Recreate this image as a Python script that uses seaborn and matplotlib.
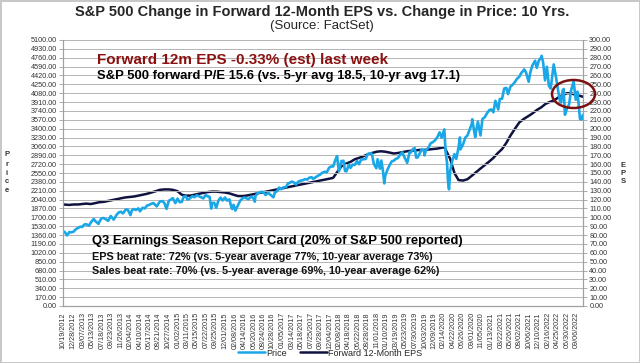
import pandas as pd
import matplotlib
matplotlib.use("Agg")
import matplotlib.pyplot as plt
from matplotlib.patches import Ellipse
from matplotlib.lines import Line2D
import seaborn as sns

# S&P 500 price
price_dates = [
    "2012-10-19", "2012-10-31", "2012-11-15", "2012-11-30", "2012-12-14", "2012-12-31",
    "2013-01-15", "2013-01-31", "2013-02-15", "2013-02-28", "2013-03-15", "2013-03-28",
    "2013-04-18", "2013-04-30", "2013-05-21", "2013-05-31", "2013-06-24", "2013-06-28",
    "2013-07-15", "2013-07-31", "2013-08-15", "2013-08-30", "2013-09-18", "2013-09-30",
    "2013-10-08", "2013-10-31", "2013-11-15", "2013-11-29", "2013-12-13", "2013-12-31",
    "2014-01-15", "2014-02-03", "2014-02-14", "2014-02-28", "2014-03-14", "2014-03-31",
    "2014-04-11", "2014-04-30", "2014-05-15", "2014-05-30", "2014-06-13", "2014-06-30",
    "2014-07-15", "2014-07-31", "2014-08-07", "2014-08-29", "2014-09-18", "2014-09-30",
    "2014-10-15", "2014-10-31", "2014-11-14", "2014-11-28", "2014-12-16", "2014-12-31",
    "2015-01-15", "2015-01-30", "2015-02-13", "2015-02-27", "2015-03-11", "2015-03-31",
    "2015-04-15", "2015-04-30", "2015-05-15", "2015-05-29", "2015-06-15", "2015-06-30",
    "2015-07-17", "2015-07-31", "2015-08-14", "2015-08-25", "2015-08-31", "2015-09-15",
    "2015-09-29", "2015-10-15", "2015-10-30", "2015-11-13", "2015-11-30", "2015-12-14",
    "2015-12-31", "2016-01-15", "2016-01-20", "2016-01-29", "2016-02-11", "2016-02-29",
    "2016-03-15", "2016-03-31", "2016-04-15", "2016-04-29", "2016-05-13", "2016-05-31",
    "2016-06-15", "2016-06-27", "2016-06-30", "2016-07-15", "2016-07-29", "2016-08-15",
    "2016-08-31", "2016-09-09", "2016-09-30", "2016-10-14", "2016-11-04", "2016-11-15",
    "2016-11-30", "2016-12-13", "2016-12-30", "2017-01-13", "2017-01-31", "2017-02-15",
    "2017-02-28", "2017-03-15", "2017-03-31", "2017-04-13", "2017-04-28", "2017-05-15",
    "2017-05-31", "2017-06-15", "2017-06-30", "2017-07-14", "2017-07-31", "2017-08-10",
    "2017-08-31", "2017-09-15", "2017-09-29", "2017-10-13", "2017-10-31", "2017-11-15",
    "2017-11-30", "2017-12-15", "2017-12-29", "2018-01-12", "2018-01-26", "2018-02-08",
    "2018-02-26", "2018-03-12", "2018-03-23", "2018-04-02", "2018-04-18", "2018-04-30",
    "2018-05-15", "2018-05-31", "2018-06-15", "2018-06-29", "2018-07-13", "2018-07-31",
    "2018-08-15", "2018-08-29", "2018-09-20", "2018-09-28", "2018-10-11", "2018-10-29",
    "2018-11-07", "2018-11-23", "2018-12-03", "2018-12-14", "2018-12-24", "2018-12-31",
    "2019-01-15", "2019-01-31", "2019-02-15", "2019-02-28", "2019-03-15", "2019-03-29",
    "2019-04-15", "2019-04-30", "2019-05-15", "2019-06-03", "2019-06-20", "2019-06-28",
    "2019-07-15", "2019-07-26", "2019-08-05", "2019-08-15", "2019-08-30", "2019-09-13",
    "2019-09-30", "2019-10-02", "2019-10-15", "2019-10-31", "2019-11-15", "2019-11-29",
    "2019-12-13", "2019-12-31", "2020-01-17", "2020-01-31", "2020-02-19", "2020-02-28",
    "2020-03-09", "2020-03-16", "2020-03-23", "2020-03-31", "2020-04-15", "2020-04-30",
    "2020-05-13", "2020-05-29", "2020-06-08", "2020-06-11", "2020-06-30", "2020-07-15",
    "2020-07-31", "2020-08-14", "2020-08-31", "2020-09-02", "2020-09-23", "2020-09-30",
    "2020-10-12", "2020-10-30", "2020-11-13", "2020-11-30", "2020-12-15", "2020-12-31",
    "2021-01-15", "2021-01-29", "2021-02-12", "2021-03-04", "2021-03-15", "2021-03-31",
    "2021-04-15", "2021-04-30", "2021-05-12", "2021-05-28", "2021-06-15", "2021-06-30",
    "2021-07-15", "2021-07-30", "2021-08-13", "2021-08-31", "2021-09-02", "2021-09-15",
    "2021-10-04", "2021-10-15", "2021-10-29", "2021-11-18", "2021-11-30", "2021-12-15",
    "2021-12-31", "2022-01-03", "2022-01-14", "2022-01-27", "2022-02-09", "2022-02-23",
    "2022-03-08", "2022-03-29", "2022-04-14", "2022-04-29", "2022-05-12", "2022-05-20",
    "2022-05-31", "2022-06-07", "2022-06-16", "2022-06-30", "2022-07-15", "2022-07-29",
    "2022-08-16", "2022-08-31", "2022-09-12", "2022-09-30", "2022-10-12", "2022-10-20",
]
price_values = [
    1433, 1412, 1353, 1416, 1413, 1426,
    1472, 1498, 1520, 1515, 1560, 1569,
    1541, 1598, 1669, 1631, 1573, 1606,
    1682, 1686, 1661, 1633, 1725, 1682,
    1656, 1757, 1798, 1806, 1775, 1848,
    1848, 1742, 1838, 1859, 1841, 1872,
    1816, 1884, 1870, 1924, 1936, 1960,
    1973, 1931, 1910, 2003, 2011, 1972,
    1862, 2018, 2039, 2068, 1973, 2059,
    1992, 1995, 2097, 2104, 2040, 2068,
    2106, 2086, 2123, 2107, 2085, 2063,
    2127, 2104, 2092, 1868, 1972, 1979,
    1884, 2024, 2079, 2023, 2080, 2021,
    2044, 1880, 1859, 1940, 1829, 1932,
    2016, 2060, 2081, 2065, 2047, 2097,
    2072, 2001, 2099, 2162, 2174, 2190,
    2171, 2128, 2168, 2133, 2085, 2180,
    2199, 2271, 2239, 2275, 2279, 2350,
    2364, 2385, 2363, 2329, 2384, 2403,
    2412, 2433, 2423, 2459, 2470, 2438,
    2472, 2500, 2519, 2553, 2575, 2565,
    2648, 2676, 2674, 2786, 2873, 2581,
    2780, 2784, 2588, 2582, 2708, 2648,
    2711, 2705, 2780, 2718, 2801, 2816,
    2818, 2914, 2931, 2914, 2728, 2641,
    2814, 2633, 2790, 2600, 2351, 2507,
    2610, 2704, 2775, 2784, 2822, 2834,
    2905, 2946, 2850, 2744, 2954, 2942,
    3014, 3026, 2845, 2848, 2926, 3007,
    2977, 2888, 2996, 3038, 3120, 3141,
    3169, 3231, 3330, 3226, 3386, 2954,
    2747, 2386, 2237, 2585, 2783, 2912,
    2820, 3044, 3232, 3002, 3100, 3227,
    3271, 3373, 3500, 3580, 3237, 3363,
    3534, 3270, 3585, 3622, 3695, 3756,
    3768, 3714, 3934, 3768, 3969, 3973,
    4170, 4181, 4063, 4204, 4246, 4298,
    4360, 4395, 4468, 4523, 4537, 4481,
    4300, 4471, 4605, 4704, 4567, 4709,
    4766, 4797, 4663, 4326, 4587, 4225,
    4171, 4632, 4393, 4132, 3930, 3901,
    4132, 4161, 3667, 3785, 3863, 4130,
    4305, 3955, 4110, 3586, 3577, 3665,
]

# forward 12-month EPS, month ends
eps_dates = [
    "2012-10-19", "2012-11-30", "2012-12-31",
    "2013-01-31", "2013-02-28", "2013-03-29", "2013-04-30", "2013-05-31", "2013-06-28",
    "2013-07-31", "2013-08-30", "2013-09-30", "2013-10-31", "2013-11-29", "2013-12-31",
    "2014-01-31", "2014-02-28", "2014-03-31", "2014-04-30", "2014-05-30", "2014-06-30",
    "2014-07-31", "2014-08-29", "2014-09-30", "2014-10-31", "2014-11-28", "2014-12-31",
    "2015-01-30", "2015-02-27", "2015-03-31", "2015-04-30", "2015-05-29", "2015-06-30",
    "2015-07-31", "2015-08-31", "2015-09-30", "2015-10-30", "2015-11-30", "2015-12-31",
    "2016-01-29", "2016-02-29", "2016-03-31", "2016-04-29", "2016-05-31", "2016-06-30",
    "2016-07-29", "2016-08-31", "2016-09-30", "2016-10-31", "2016-11-30", "2016-12-30",
    "2017-01-31", "2017-02-28", "2017-03-31", "2017-04-28", "2017-05-31", "2017-06-30",
    "2017-07-31", "2017-08-31", "2017-09-29", "2017-10-31", "2017-11-30", "2017-12-29",
    "2018-01-31", "2018-02-28", "2018-03-29", "2018-04-30", "2018-05-31", "2018-06-29",
    "2018-07-31", "2018-08-31", "2018-09-28", "2018-10-31", "2018-11-30", "2018-12-31",
    "2019-01-31", "2019-02-28", "2019-03-29", "2019-04-30", "2019-05-31", "2019-06-28",
    "2019-07-31", "2019-08-30", "2019-09-30", "2019-10-31", "2019-11-29", "2019-12-31",
    "2020-01-31", "2020-02-20", "2020-03-31", "2020-04-30", "2020-05-29", "2020-06-30",
    "2020-07-31", "2020-08-31", "2020-09-30", "2020-10-30", "2020-11-30", "2020-12-31",
    "2021-01-29", "2021-02-26", "2021-03-31", "2021-04-30", "2021-05-28", "2021-06-30",
    "2021-07-30", "2021-08-31", "2021-09-30", "2021-10-29", "2021-11-30", "2021-12-31",
    "2022-01-31", "2022-02-28", "2022-03-31", "2022-04-29", "2022-05-31", "2022-06-30",
    "2022-07-29", "2022-08-31", "2022-09-30", "2022-10-20",
]
eps_values = [
    114.5, 114.0, 114.5,
    114.5, 115.0, 115.5, 115.0, 116.0, 117.0,
    117.5, 118.5, 119.5, 120.5, 121.5, 122.5,
    123.0, 123.5, 124.5, 125.5, 126.5, 128.0,
    129.5, 131.0, 131.5, 131.5, 131.0, 129.5,
    125.5, 124.5, 124.5, 125.5, 126.5, 127.5,
    128.5, 129.0, 129.0, 128.5, 128.0, 127.0,
    125.5, 124.0, 124.0, 124.5, 125.5, 126.5,
    127.5, 128.5, 129.5, 130.5, 131.5, 132.5,
    133.5, 134.5, 135.5, 136.5, 137.5, 138.5,
    139.5, 140.5, 141.5, 142.5, 143.5, 144.5,
    152.0, 158.0, 160.5, 162.5, 165.5, 167.0,
    169.0, 171.0, 172.5, 174.0, 174.5, 174.0,
    173.0, 172.0, 172.5, 173.5, 174.5, 175.0,
    175.5, 176.0, 176.0, 176.5, 177.0, 177.5,
    178.5, 179.0, 166.0, 150.0, 142.0, 141.5,
    143.0, 147.0, 151.0, 155.0, 159.0, 163.0,
    167.0, 172.0, 177.0, 184.0, 192.0, 200.0,
    207.0, 211.0, 214.0, 217.0, 221.0, 224.0,
    228.0, 230.0, 232.0, 235.0, 238.0, 240.0,
    240.0, 238.0, 237.0, 236.0,
]

tick_dates = [
    "2012-10-19", "2012-12-28", "2013-03-07", "2013-05-13", "2013-07-18", "2013-09-23",
    "2013-11-26", "2014-02-04", "2014-04-10", "2014-06-17", "2014-08-21", "2014-10-27",
    "2015-01-02", "2015-03-11", "2015-05-15", "2015-07-22", "2015-09-25", "2015-12-01",
    "2016-02-08", "2016-04-14", "2016-06-20", "2016-08-24", "2016-10-28", "2017-01-05",
    "2017-03-14", "2017-05-18", "2017-07-25", "2017-09-28", "2017-12-04", "2018-02-08",
    "2018-04-18", "2018-06-22", "2018-08-28", "2018-11-01", "2019-01-10", "2019-03-19",
    "2019-05-23", "2019-07-30", "2019-10-03", "2019-12-09", "2020-02-14", "2020-04-22",
    "2020-06-26", "2020-09-01", "2020-11-05", "2021-01-13", "2021-03-22", "2021-05-26",
    "2021-08-02", "2021-10-06", "2021-12-10", "2022-02-16", "2022-04-25", "2022-06-30",
    "2022-09-06",
]

price = pd.DataFrame({"date": pd.to_datetime(price_dates), "value": price_values})
eps = pd.DataFrame({"date": pd.to_datetime(eps_dates), "value": eps_values})
ticks = pd.to_datetime(tick_dates)

sns.set_theme(style="white")
plt.rcParams["font.family"] = ["Liberation Sans", "DejaVu Sans"]

W, H = 640, 363
fig = plt.figure(figsize=(W / 100, H / 100), dpi=100)
fig.patch.set_edgecolor("#C8C8C8")
fig.patch.set_linewidth(1.0)
ax = fig.add_axes([63 / W, 57 / H, 520 / W, 266 / H])
ax2 = ax.twinx()

price_col = "#19A7E8"
eps_col = "#10123F"
sns.lineplot(data=price, x="date", y="value", ax=ax, color=price_col, lw=1.9)
sns.lineplot(data=eps, x="date", y="value", ax=ax2, color=eps_col, lw=1.8)

ax.set_xlim(pd.Timestamp("2012-10-17"), pd.Timestamp("2022-10-21"))
ax.set_ylim(0, 5100)
ax2.set_ylim(0, 300)
ax.set_yticks(range(0, 5101, 170))
ax2.set_yticks(range(0, 301, 10))
ax.set_yticklabels([f"{v:.2f}" for v in range(0, 5101, 170)])
ax2.set_yticklabels([f"{v:.2f}" for v in range(0, 301, 10)])
ax.set_xticks(ticks)
ax.set_xticklabels([d.strftime("%m/%d/%Y") for d in ticks], rotation=90)

ax.grid(axis="y", color="#B4B4B4", lw=0.7)
ax.set_axisbelow(True)
for a in (ax, ax2):
    a.set_xlabel("")
    a.set_ylabel("")
    for s in a.spines.values():
        s.set_color("#A0A0A0")
        s.set_linewidth(0.8)
    a.spines["top"].set_visible(False)
    a.tick_params(axis="both", which="major", direction="out", length=3, width=0.6,
                  color="#A0A0A0", labelsize=5.2, labelcolor="#333333", pad=1.5)

# price drawn above the EPS line
ax.set_zorder(ax2.get_zorder() + 1)
ax.patch.set_visible(False)


def ftext(x, y, s, **kw):
    fig.text(x / W, 1 - y / H, s, **kw)


ftext(322, 12, "S&P 500 Change in Forward 12-Month EPS vs. Change in Price: 10 Yrs.",
      ha="center", va="center", fontsize=10.5, fontweight="bold")
ftext(322, 26, "(Source: FactSet)", ha="center", va="center", fontsize=9.5)

ftext(97, 60, "Forward 12m EPS -0.33% (est) last week", ha="left", va="center",
      fontsize=11, fontweight="bold", color="#8B1010")
ftext(97, 76, "S&P 500 forward P/E 15.6 (vs. 5-yr avg 18.5, 10-yr avg 17.1)", ha="left",
      va="center", fontsize=9.4, fontweight="bold", color="black")

ftext(92, 241, "Q3 Earnings Season Report Card (20% of S&P 500 reported)", ha="left",
      va="center", fontsize=9.4, fontweight="bold", color="black")
ftext(92, 257, "EPS beat rate: 72% (vs. 5-year average 77%, 10-year average 73%)", ha="left",
      va="center", fontsize=7.8, fontweight="bold", color="#111111")
ftext(92, 271, "Sales beat rate: 70% (vs. 5-year average 69%, 10-year average 62%)", ha="left",
      va="center", fontsize=7.8, fontweight="bold", color="#111111")

for i, ch in enumerate("Price"):
    ftext(7, 155 + 9 * i, ch, ha="center", va="center", fontsize=5.5, fontweight="bold",
          color="#333333")
for i, ch in enumerate("EPS"):
    ftext(623, 165 + 8.5 * i, ch, ha="center", va="center", fontsize=5.5, fontweight="bold",
          color="#333333")

fig.add_artist(Ellipse((573.5 / W, 1 - 94 / H), 43 / W, 28 / H, transform=fig.transFigure,
                       fill=False, edgecolor="#7A1010", lw=1.8, zorder=10))

handles = [Line2D([], [], color=price_col, lw=1.8), Line2D([], [], color=eps_col, lw=1.8)]
fig.legend(handles, ["Price", "Forward 12-Month EPS"], loc="center",
           bbox_to_anchor=(330 / W, 1 - 353 / H), ncol=2, frameon=False, fontsize=6.5,
           handlelength=3, handletextpad=0.1, columnspacing=1.5)

fig.savefig("out.png", dpi=100)
